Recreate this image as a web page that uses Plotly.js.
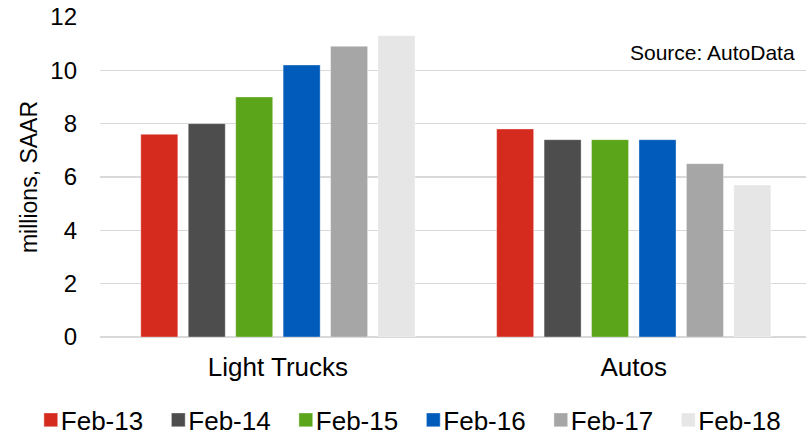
<!DOCTYPE html>
<html>
<head>
<meta charset="utf-8">
<script src="https://cdn.plot.ly/plotly-3.0.1.min.js"></script>
<style>html,body{margin:0;padding:0;background:#fff;}#chart{width:806px;height:436px;}</style>
</head>
<body>
<div id="chart"></div>
<script>
const categories = ["Light Trucks", "Autos"];
const seriesNames = ["Feb-13", "Feb-14", "Feb-15", "Feb-16", "Feb-17", "Feb-18"];
const feb13 = [7.6, 7.8];
const feb14 = [8.0, 7.4];
const feb15 = [9.0, 7.4];
const feb16 = [10.2, 7.4];
const feb17 = [10.9, 6.5];
const feb18 = [11.3, 5.7];
const yTicks = [0, 2, 4, 6, 8, 10, 12];
const sourceText = "Source: AutoData";

const seriesValues = [feb13, feb14, feb15, feb16, feb17, feb18];
const colors = ["#D52B1E", "#4D4D4D", "#5AA519", "#005BBB", "#A6A6A6", "#E6E6E6"];

const traces = seriesNames.map((name, i) => ({
  type: "bar",
  name: name,
  x: categories,
  y: seriesValues[i],
  marker: {color: colors[i], line: {color: "rgba(255,255,255,0.35)", width: 1}},
  hoverinfo: "skip"
}));

const font = "Liberation Sans, Arial, sans-serif";
const layout = {
  width: 806, height: 436,
  margin: {l: 100, r: 0, t: 17, b: 99, autoexpand: false},
  paper_bgcolor: "#fff", plot_bgcolor: "#fff",
  font: {family: font, color: "#000"},
  barmode: "group",
  bargap: 0.2,
  bargroupgap: 0.22,
  showlegend: true,
  legend: {
    orientation: "h", x: -0.098, xanchor: "left",
    y: -0.186, yanchor: "top",
    bgcolor: "rgba(0,0,0,0)",
    font: {size: 26, family: font, color: "#000"},
    entrywidth: 82.5, entrywidthmode: "pixels",
    itemwidth: 30, tracegroupgap: 0, traceorder: "normal"
  },
  xaxis: {
    type: "category",
    range: [-0.5, 1.484],
    showgrid: false, zeroline: false, showline: false, ticks: "",
    tickfont: {size: 26, family: font, color: "#000"},
    ticklabelstandoff: 12
  },
  yaxis: {
    range: [0, 12],
    tickvals: yTicks,
    ticktext: yTicks.map(String),
    showgrid: true, gridcolor: "#D9D9D9", gridwidth: 1.5,
    zeroline: true, zerolinecolor: "#D9D9D9", zerolinewidth: 1.5,
    showline: false, ticks: "",
    tickfont: {size: 24, family: font, color: "#000"},
    ticklabelstandoff: 22,
    title: {text: "millions, SAAR", font: {size: 23, family: font, color: "#000"}, standoff: 6}
  },
  annotations: [{
    text: sourceText, xref: "paper", yref: "paper", x: 0.987, y: 0.89,
    xanchor: "right", yanchor: "middle", showarrow: false,
    font: {size: 21, family: font, color: "#000"}
  }]
};

Plotly.newPlot("chart", traces, layout, {displayModeBar: false, staticPlot: true}).then(function (gd) {
  // tighten gap between legend swatch and its label, as in the reference
  gd.querySelectorAll(".legend .legendtext").forEach(function (t) {
    t.setAttribute("x", 30);
  });
  gd.querySelectorAll(".legend .legendpoints path").forEach(function (p) {
    p.setAttribute("transform", "translate(20,0) scale(1.15)");
  });
});
</script>
</body>
</html>
